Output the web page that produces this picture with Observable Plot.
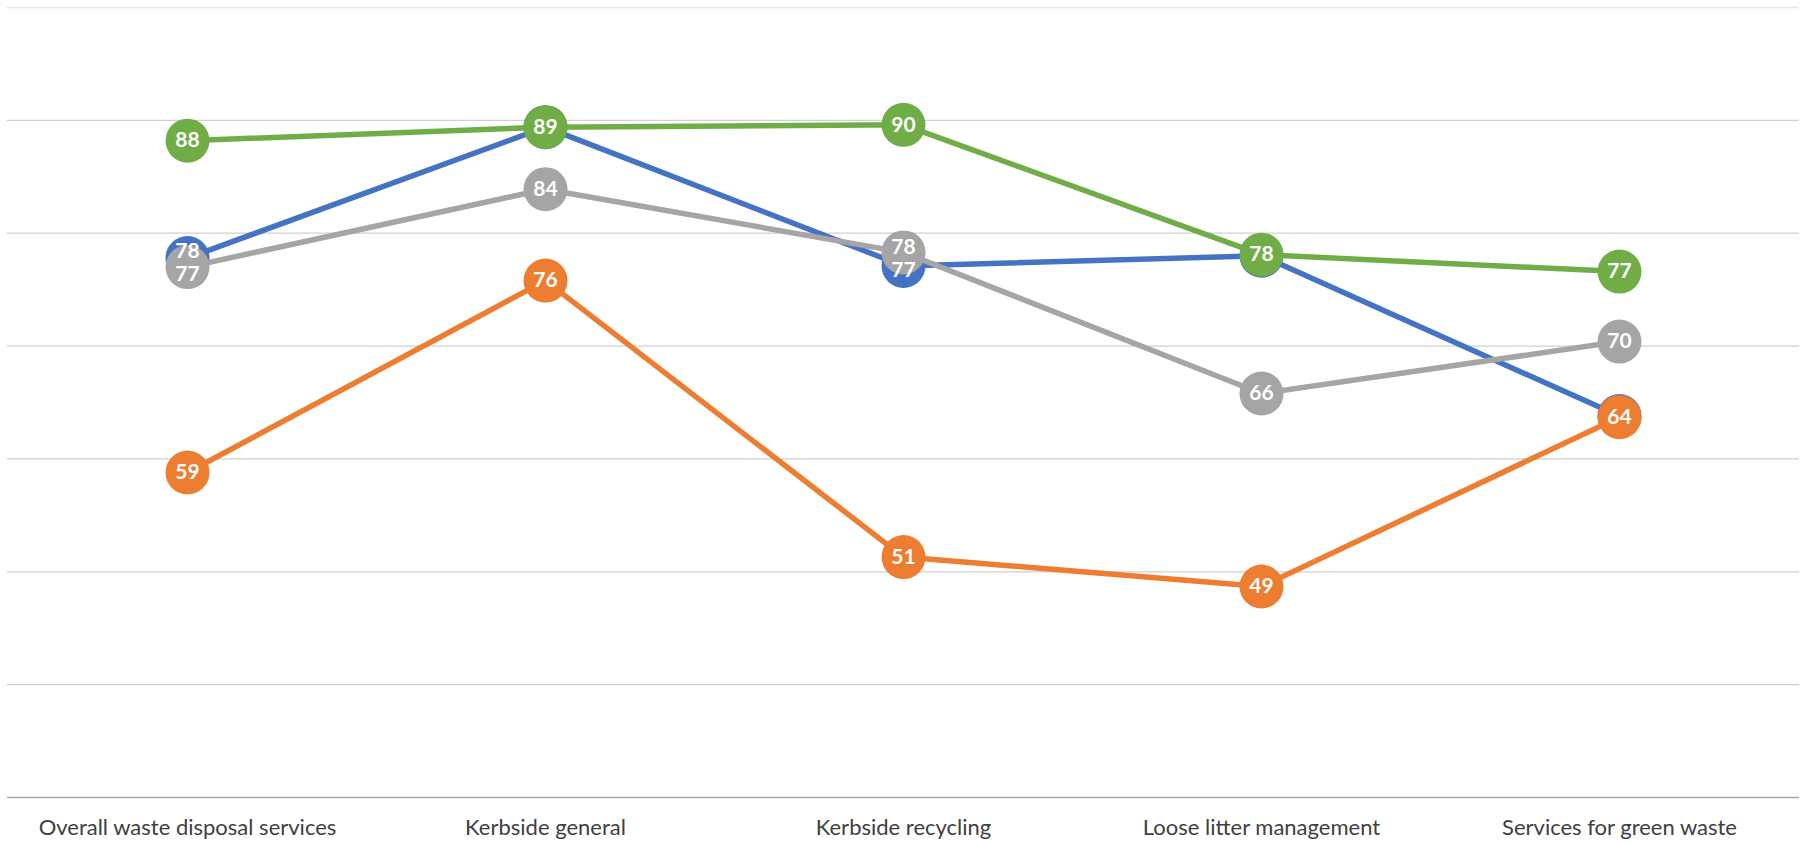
<!DOCTYPE html>
<html>
<head>
<meta charset="utf-8">
<script src="https://cdn.jsdelivr.net/npm/d3@7"></script>
<script src="https://cdn.jsdelivr.net/npm/@observablehq/plot@0.6"></script>
<style>
  html, body { margin: 0; padding: 0; background: #ffffff; }
  #chart { width: 1806px; height: 844px; }
</style>
</head>
<body>
<div id="chart"></div>
<script>
const categories = ["Overall waste disposal services", "Kerbside general", "Kerbside recycling", "Loose litter management", "Services for green waste"];
const seriesNames = ["Series 1", "Series 2", "Series 3", "Series 4"];
const seriesColors = ["#4472C4", "#ED7D31", "#A5A5A5", "#70AD47"];
const blueValues = [77.8, 89.4, 77.1, 78.0, 63.8];
const orangeValues = [58.8, 75.8, 51.3, 48.7, 63.7];
const grayValues = [77.0, 83.9, 78.3, 65.8, 70.4];
const greenValues = [88.2, 89.4, 89.6, 78.1, 76.6];
const gridValues = [40, 50, 60, 70, 80, 90];
const yDomain = [30, 100];

const W = 1806, H = 844, MT = 7, MB = 47;
const pxPerUnit = (H - MT - MB) / (yDomain[1] - yDomain[0]);
const FONT = "Lato, 'Noto Sans', sans-serif";

const allValues = [blueValues, orangeValues, grayValues, greenValues];
const rows = [];
allValues.forEach((vals, si) => {
  vals.forEach((v, ci) => rows.push({series: seriesNames[si], si, ci, category: categories[ci], value: v, labelY: v, label: String(Math.round(v)), show: true}));
});

// labels: hide a label fully covered by a later series' marker; nudge apart labels of nearly coinciding markers
const minSep = 23;
categories.forEach((c, ci) => {
  const g = rows.filter(r => r.ci === ci);
  for (let i = 0; i < g.length; i++) {
    for (let j = i + 1; j < g.length; j++) {
      const a = g[i], b = g[j];
      const gapPx = Math.abs(a.value - b.value) * pxPerUnit;
      if (gapPx <= 3) {
        a.show = false;
      } else if (gapPx < minSep) {
        const push = (minSep - gapPx) / 2 / pxPerUnit;
        const hi = a.value > b.value ? a : b, lo = hi === a ? b : a;
        hi.labelY = hi.value + push;
        lo.labelY = lo.value - push;
      }
    }
  }
});

const seriesMarks = seriesNames.flatMap((name, si) => {
  const d = rows.filter(r => r.si === si);
  return [
    Plot.line(d, {x: "category", y: "value", stroke: seriesColors[si], strokeWidth: 5.5, strokeLinejoin: "round"}),
    Plot.dot(d, {x: "category", y: "value", r: 22, fill: seriesColors[si], stroke: "none"})
  ];
});
const labelMarks = seriesNames.map((name, si) =>
  Plot.text(rows.filter(r => r.si === si && r.show), {x: "category", y: "labelY", text: "label", fill: "#ffffff", fontSize: 21, fontWeight: "bold", fontFamily: FONT})
);

const chart = Plot.plot({
  width: W,
  height: H,
  marginTop: MT,
  marginBottom: MB,
  marginLeft: 7,
  marginRight: 7,
  style: {fontFamily: FONT, background: "#ffffff"},
  x: {type: "point", domain: categories, padding: 0.5, label: null},
  y: {domain: yDomain, axis: null},
  marks: [
    Plot.ruleY(gridValues, {stroke: "#d0d0d0", strokeWidth: 1.3}),
    Plot.ruleY([100], {stroke: "#e6e6e6", strokeWidth: 1.3}),
    Plot.ruleY([30], {stroke: "#a6a6a6", strokeWidth: 1.5}),
    Plot.axisX({domain: categories, tickSize: 0, tickPadding: 22, fontSize: 22, fill: "#404040", label: null}),
    ...seriesMarks,
    ...labelMarks
  ]
});
document.getElementById("chart").appendChild(chart);
</script>
</body>
</html>
